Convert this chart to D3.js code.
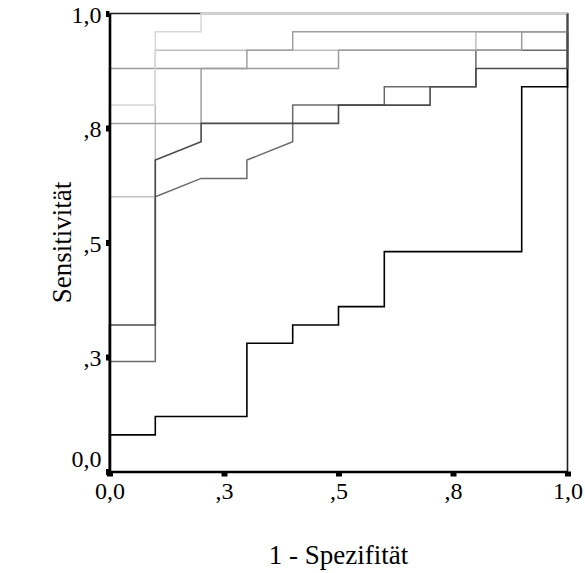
<!DOCTYPE html>
<html>
<head>
<meta charset="utf-8">
<script src="https://cdn.jsdelivr.net/npm/d3@7/dist/d3.min.js"></script>
<style>
  html, body { margin: 0; padding: 0; background: #fff; }
  svg { display: block; }
  text { font-family: "Liberation Serif", "Times New Roman", serif; fill: #000; }
</style>
</head>
<body>
<svg id="chart" width="585" height="573"></svg>
<script>
// ROC curves: each point is [1 - specificity, sensitivity]
const rocA = [[0,0],[0,.08],[.1,.08],[.1,.12],[.3,.12],[.3,.28],[.4,.28],[.4,.32],[.5,.32],[.5,.36],[.6,.36],[.6,.48],[.9,.48],[.9,.84],[1,.84],[1,1]];
const rocU = [[0,0],[0,.32],[.1,.32],[.1,.68],[.2,.72],[.2,.76],[.5,.76],[.5,.80],[.7,.80],[.7,.84],[.8,.84],[.8,.88],[1,.88],[1,1]];
const rocL = [[0,0],[0,.24],[.1,.24],[.1,.60],[.2,.64],[.3,.64],[.3,.68],[.4,.72],[.4,.80],[.6,.80],[.6,.84],[.8,.84],[.8,.92],[1,.92],[1,1]];
const rocM = [[0,0],[0,.76],[.2,.76],[.2,.88],[.3,.88],[.3,.92],[.4,.92],[.4,.96],[1,.96],[1,1]];
const rocLG = [[0,0],[0,.60],[.1,.60],[.1,.92],[.8,.92],[.8,.96],[1,.96],[1,1]];
const rocG = [[0,0],[0,.88],[.5,.88],[.5,.92],[.9,.92],[.9,.96],[1,.96],[1,1]];
const rocVL = [[0,0],[0,.80],[.1,.80],[.1,.96],[.2,.96],[.2,1],[1,1]];

// axis ticks and their printed labels
const tickValues = [0, .25, .5, .75, 1];
const xTickLabels = ["0,0", ",3", ",5", ",8", "1,0"];
const yTickLabels = ["0,0", ",3", ",5", ",8", "1,0"];

const svg = d3.select("#chart");
const x = d3.scaleLinear().domain([0, 1]).range([109.5, 567.5]);
const y = d3.scaleLinear().domain([0, 1]).range([471.5, 13.5]);

// top and right frame edges
svg.append("path")
  .attr("d", d3.line()([[x(0), y(1)], [x(1), y(1)], [x(1), y(0)]]))
  .attr("fill", "none")
  .attr("stroke", "#1e1e1e")
  .attr("stroke-width", 1.6);

// curves, in drawing order
const curves = [
  { pts: rocA,  color: "#000000", w: 1.6 },
  { pts: rocL,  color: "#6a6a6a", w: 1.5 },
  { pts: rocLG, color: "#c0c0c0", w: 1.5 },
  { pts: rocM,  color: "#a0a0a0", w: 1.5 },
  { pts: rocG,  color: "#9c9c9c", w: 1.5 },
  { pts: rocVL, color: "#d8d8d8", w: 1.5 },
  { pts: rocU,  color: "#4a4a4a", w: 1.6 }
];

const line = d3.line().x(d => x(d[0])).y(d => y(d[1]));

svg.append("g")
  .selectAll("path")
  .data(curves)
  .join("path")
  .attr("d", d => line(d.pts))
  .attr("fill", "none")
  .attr("stroke", d => d.color)
  .attr("stroke-width", d => d.w)
  .attr("stroke-linejoin", "miter");

// bottom axis
const gx = svg.append("g")
  .attr("transform", `translate(0,${y(0)})`)
  .call(d3.axisBottom(x)
    .tickValues(tickValues)
    .tickFormat((d, i) => xTickLabels[i])
    .tickSizeInner(5)
    .tickSizeOuter(0))
  .attr("font-family", "'Liberation Serif', serif")
  .attr("font-size", 24);
gx.select(".domain").attr("stroke", "#000").attr("stroke-width", 2.6);
gx.selectAll(".tick line").attr("stroke", "#000").attr("stroke-width", 6);
gx.selectAll(".tick text")
  .attr("y", 27)
  .attr("dy", 0)
  .attr("fill", "#000");

// left axis
const gy = svg.append("g")
  .attr("transform", `translate(${x(0)},0)`)
  .call(d3.axisLeft(y)
    .tickValues(tickValues)
    .tickFormat((d, i) => yTickLabels[i])
    .tickSizeInner(3.5)
    .tickSizeOuter(0))
  .attr("font-family", "'Liberation Serif', serif")
  .attr("font-size", 24);
gy.select(".domain").attr("stroke", "#000").attr("stroke-width", 2.6);
gy.selectAll(".tick line").attr("stroke", "#000").attr("stroke-width", 6);
gy.selectAll(".tick text")
  .attr("x", -8)
  .attr("dy", "0.36em")
  .attr("y", d => d === 0 ? -13.5 : 0)
  .attr("fill", "#000");

// axis titles
svg.append("text")
  .attr("x", (x(0) + x(1)) / 2)
  .attr("y", 564)
  .attr("text-anchor", "middle")
  .style("font-size", "27px")
  .text("1 - Spezifität");

svg.append("text")
  .attr("transform", `translate(71,${(y(0) + y(1)) / 2}) rotate(-90)`)
  .attr("text-anchor", "middle")
  .style("font-size", "27px")
  .text("Sensitivität");
</script>
</body>
</html>
